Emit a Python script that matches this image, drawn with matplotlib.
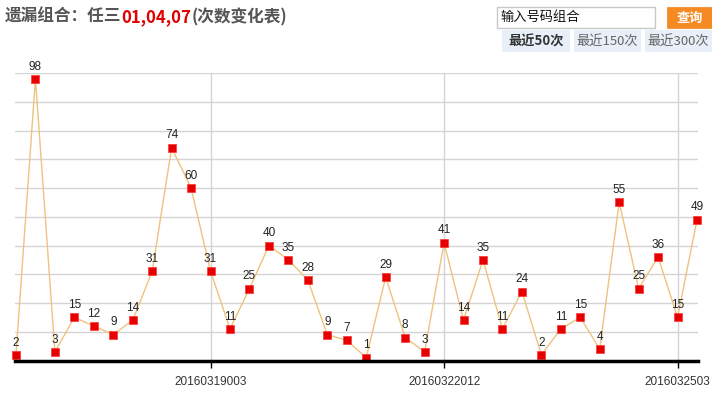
import numpy as np
import matplotlib
matplotlib.use("Agg")
import matplotlib.pyplot as plt
from matplotlib.patches import Rectangle

W, H = 712, 397

# chart data
values = [2, 98, 3, 15, 12, 9, 14, 31, 74, 60, 31, 11, 25, 40, 35, 28, 9, 7,
          1, 29, 8, 3, 41, 14, 35, 11, 24, 2, 11, 15, 4, 55, 25, 36, 15, 49]
tick_pos = [10, 22, 34]
tick_labels = ["20160319003", "20160322012", "2016032503"]
title_parts = ["遗漏组合：任三", "01,04,07", "(次数变化表)"]
title_colors = ["#555555", "#e00000", "#555555"]
tabs = ["最近50次", "最近150次", "最近300次"]

cjk = ["Noto Sans CJK SC", "DejaVu Sans"]
plt.rcParams["font.family"] = cjk

fig = plt.figure(figsize=(W / 100, H / 100), dpi=100)
fig.patch.set_facecolor("white")

# overlay in pixel coords for header widgets
ov = fig.add_axes([0, 0, 1, 1])
ov.set_xlim(0, W)
ov.set_ylim(H, 0)
ov.axis("off")

# chart area
left, right, top, bottom = 15, 698, 73, 360.5
ax = fig.add_axes([left / W, (H - bottom) / H, (right - left) / W, (bottom - top) / H])
x = np.arange(len(values))
ax.set_xlim(-0.05, len(values) - 1 + 0.05)
ax.set_ylim(0, 100)
ax.set_yticks(np.arange(10, 101, 10))
ax.set_yticklabels([])
ax.tick_params(axis="y", length=0)
ax.set_xticks(tick_pos)
ax.set_xticklabels(tick_labels, family=["Liberation Sans"], fontsize=8.5, color="#333333")
ax.tick_params(axis="x", direction="out", length=5, width=1, color="black", pad=6)
ax.grid(True, color="#d4d4d4", lw=1)
for s in ["top", "right", "left"]:
    ax.spines[s].set_visible(False)
ax.spines["bottom"].set_linewidth(2.5)
ax.spines["bottom"].set_color("black")
ax.spines["bottom"].set_zorder(5)

ax.plot(x, values, color="#efc27e", lw=1, zorder=3, clip_on=False)
ax.plot(x, values, ls="none", marker="s", ms=5.4, mfc="#e60000", mec="#ff3333",
        mew=0.5, zorder=4, clip_on=False)
for xi, v in zip(x, values):
    ax.annotate(str(v), (xi, v), xytext=(0, 4.5), textcoords="offset points",
                ha="center", va="bottom", fontsize=8.5, color="#222222",
                family=["Liberation Sans"], annotation_clip=False)

# title, pieced together
fig.canvas.draw()
r = fig.canvas.get_renderer()
cx = 5
for part, col in zip(title_parts, title_colors):
    t = ov.text(cx, 17, part, fontsize=12, weight="bold", color=col,
                ha="left", va="center")
    bb = t.get_window_extent(renderer=r)
    cx = ov.transData.inverted().transform((bb.x1, bb.y0))[0]

# search box and button
ov.add_patch(Rectangle((497, 7), 158, 21, fc="white", ec="#c8c8c8", lw=1))
ov.text(500, 17.5, "输入号码组合", fontsize=9.5, color="#111111", ha="left", va="center")
ov.add_patch(Rectangle((667, 7), 45, 21, fc="#f58a22", ec="#f08020", lw=0.5))
ov.text(689.5, 17.5, "查询", fontsize=9.5, weight="bold", color="white", ha="center", va="center")

# tabs
tab_x = [(502, 570), (574, 641), (645, 712)]
for i, (lab, (a, b)) in enumerate(zip(tabs, tab_x)):
    ov.add_patch(Rectangle((a, 30), b - a, 22, fc="#e8eff8", ec="none"))
    ov.text((a + b) / 2, 41.5, lab, fontsize=9.5,
            weight="bold" if i == 0 else "normal",
            color="#333333" if i == 0 else "#666666", ha="center", va="center")

fig.savefig("out.png", dpi=100)
